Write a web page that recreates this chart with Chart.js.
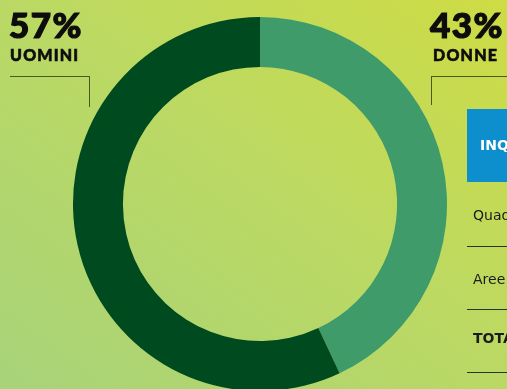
<!DOCTYPE html>
<html>
<head>
<meta charset="utf-8">
<script src="https://cdn.jsdelivr.net/npm/chart.js@4"></script>
<style>
  html, body { margin: 0; padding: 0; }
  body {
    width: 507px; height: 389px; overflow: hidden; position: relative;
    background: linear-gradient(to bottom left, #cedc44 0%, #bcd962 45%, #a7d379 100%);
    font-family: Lato, "DejaVu Sans", sans-serif;
  }
  #wrap { position: absolute; left: 73px; top: 17px; width: 374px; height: 374px; }
  .pct { position: absolute; font-weight: 900; font-size: 35px; line-height: 35px; color: #0d0d0d; letter-spacing: 1.5px; -webkit-text-stroke: 1.2px #0d0d0d; }
  .lab { position: absolute; font-weight: 900; font-size: 16px; line-height: 16px; color: #0d0d0d; letter-spacing: 1.2px; -webkit-text-stroke: 0.6px #0d0d0d; }
  .lead { position: absolute; border-color: #4a5a1c; border-style: solid; border-width: 0; }
  .head { position: absolute; left: 467px; top: 109px; width: 60px; height: 73px; background: #0c8fcc; }
  .head span { position: absolute; left: 13px; top: 28px; color: #fff; font-family: "DejaVu Sans", sans-serif; font-weight: 700; font-size: 14px; }
  .row { position: absolute; left: 473px; font-family: "DejaVu Sans", sans-serif; font-size: 14px; color: #1b1b1b; white-space: nowrap; }
  .rule { position: absolute; left: 467px; width: 50px; height: 1px; background: #2a3320; }
</style>
</head>
<body>
<div id="wrap"><canvas id="c" width="374" height="374"></canvas></div>

<div class="pct" style="left:9px; top:7px;">57%</div>
<div class="lab" style="left:10px; top:47px;">UOMINI</div>
<div class="lead" style="left:10px; top:76px; width:79px; height:30px; border-top-width:1px; border-right-width:1px;"></div>

<div class="pct" style="left:430px; top:7px;">43%</div>
<div class="lab" style="left:433px; top:47px;">DONNE</div>
<div class="lead" style="left:431px; top:76px; width:80px; height:28px; border-top-width:1px; border-left-width:1px;"></div>

<div class="head"><span>INQUADRAMENTO</span></div>
<div class="row" style="top:207px;">Quadri</div>
<div class="rule" style="top:246px;"></div>
<div class="row" style="top:271px;">Aree</div>
<div class="rule" style="top:309px;"></div>
<div class="row" style="top:330px; font-weight:700;">TOTALE</div>
<div class="rule" style="top:372px;"></div>

<script>
// gender split, clockwise from the top
const labels = ["DONNE", "UOMINI"]
const values = [43, 57]
const colors = ["#3f9b69", "#004a20"]

new Chart(document.getElementById("c"), {
    type: "doughnut",
    data: {
        labels: labels,
        datasets: [{
            data: values,
            backgroundColor: colors,
            borderWidth: 0,
            hoverOffset: 0
        }]
    },
    options: {
        responsive: false,
        animation: false,
        cutout: "73.3%",
        layout: { padding: 0 },
        plugins: {
            legend: { display: false },
            tooltip: { enabled: false }
        }
    }
})
</script>
</body>
</html>
